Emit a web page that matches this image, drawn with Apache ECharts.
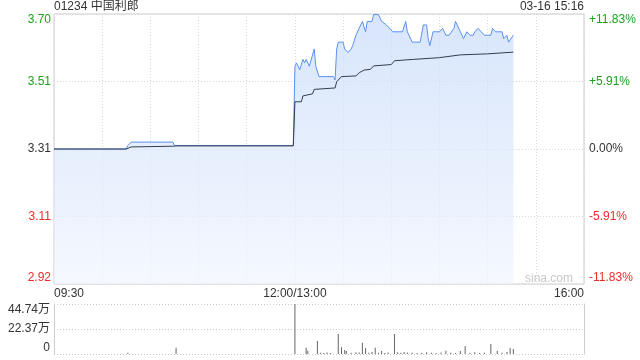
<!DOCTYPE html>
<html><head><meta charset="utf-8">
<script src="https://cdn.jsdelivr.net/npm/echarts@6/dist/echarts.min.js"></script>
<style>html,body{margin:0;padding:0;background:#fff}#c{width:640px;height:360px}</style>
</head><body><div id="c"></div>
<script>
const stockTitle = '01234 中国利郎';
const timeStamp = '03-16 15:16';
const watermark = 'sina.com';
const prevClose = 3.31;
const maxDeviation = 0.3916;
const priceTickLabels = ['2.92', '3.11', '3.31', '3.51', '3.70'];
const pctTickLabels = ['-11.83%', '-5.91%', '0.00%', '+5.91%', '+11.83%'];
const timeTickLabels = { 0: '09:30', 150: '12:00/13:00', 330: '16:00' };
const volTickLabels = ['0', '22.37万', '44.74万'];
const volMax = 447400;

// minute index from 09:30 (0..150 morning, 150..330 afternoon 13:00-16:00)
const priceMinutes = [0, 45, 46, 48, 74, 75, 149,
  150, 151, 153, 155, 156, 157, 159, 160, 162, 163, 165, 167, 174, 175, 176, 177, 180, 181, 183, 185, 186, 188, 190, 192, 194, 195, 198, 199, 202, 204, 207, 211, 217, 219, 220, 223, 228, 229, 230, 232, 233, 234, 236, 240, 242, 243, 244, 246, 249, 250, 253, 255, 257, 259, 261, 262, 264, 266, 268, 270, 272, 273, 275, 279, 280, 282, 283, 284, 286];
const prices = [3.31, 3.31, 3.32, 3.33, 3.33, 3.32, 3.32,
  3.55, 3.56, 3.54, 3.57, 3.56, 3.57, 3.55, 3.55, 3.60, 3.55, 3.52, 3.52, 3.52, 3.51, 3.60, 3.62, 3.62, 3.60, 3.59, 3.60, 3.61, 3.64, 3.66, 3.68, 3.65, 3.68, 3.68, 3.70, 3.70, 3.68, 3.67, 3.65, 3.65, 3.68, 3.65, 3.62, 3.62, 3.62, 3.67, 3.67, 3.63, 3.61, 3.65, 3.65, 3.66, 3.65, 3.64, 3.64, 3.66, 3.68, 3.65, 3.63, 3.65, 3.64, 3.64, 3.65, 3.66, 3.65, 3.64, 3.64, 3.64, 3.66, 3.65, 3.65, 3.63, 3.64, 3.62, 3.62, 3.64];

const avgMinutes = [0, 45, 48, 74, 76, 149, 150, 154, 155, 161, 162, 175, 176, 179, 188, 190, 193, 197, 199, 210, 212, 224, 240, 253, 270, 286];
const avgPrices = [3.31, 3.31, 3.316, 3.318, 3.319, 3.319, 3.447, 3.447, 3.464, 3.470, 3.483, 3.487, 3.505, 3.520, 3.522, 3.531, 3.539, 3.541, 3.551, 3.555, 3.566, 3.570, 3.575, 3.583, 3.586, 3.591];

const volMinutes = [46, 76, 150, 157, 158, 164, 166, 168, 170, 172, 177, 179, 181, 182, 185, 188, 190, 192, 194, 196, 198, 200, 202, 204, 206, 208, 212, 214, 216, 218, 220, 223, 226, 229, 232, 235, 238, 241, 244, 247, 250, 253, 256, 259, 262, 265, 268, 272, 276, 279, 282, 284, 286];
const volumes = [12000, 56000, 447400, 57000, 30000, 116000, 12000, 10000, 14000, 9000, 179000, 60000, 36000, 27000, 12000, 15000, 14000, 101000, 54000, 12000, 18000, 57000, 12000, 27000, 10000, 14000, 179000, 15000, 12000, 18000, 14000, 12000, 10000, 12000, 15000, 12000, 10000, 14000, 30000, 12000, 10000, 27000, 72000, 12000, 15000, 10000, 12000, 90000, 30000, 12000, 18000, 54000, 45000];

const FONT = "'Liberation Sans', Arial, 'Noto Sans CJK SC', sans-serif";
const GREEN = '#1ea01e', RED = '#ee2b2b', DARK = '#333';
const half = maxDeviation / 2;
const lblIdx = v => Math.round(v / half) + 2;
const lblColor = v => { const i = lblIdx(v); return i > 2 ? GREEN : (i < 2 ? RED : DARK); };

const priceData = priceMinutes.map((m, i) => [m, prices[i] - prevClose]);
const avgData = avgMinutes.map((m, i) => [m, avgPrices[i] - prevClose]);
const volData = volMinutes.map((m, i) => [m, volumes[i]]);

const chart = echarts.init(document.getElementById('c'), null, { renderer: 'canvas' });
chart.setOption({
  animation: false,
  textStyle: { fontFamily: FONT },
  title: [
    { text: stockTitle, left: 54, top: 1, padding: 0, textStyle: { fontSize: 12, fontWeight: 'normal', color: DARK, fontFamily: FONT } },
    { text: timeStamp, right: 56, top: 1, padding: 0, textStyle: { fontSize: 12, fontWeight: 'normal', color: DARK, fontFamily: FONT } }
  ],
  graphic: [{ type: 'text', right: 67, top: 273, style: { text: watermark, fill: '#c8c8c8', font: "12px " + FONT } }],
  grid: [
    { left: 54, top: 14, width: 530, height: 270, show: true, borderColor: '#ccc', borderWidth: 1 },
    { left: 54, top: 304, width: 530, height: 50 }
  ],
  xAxis: [
    { gridIndex: 0, type: 'value', min: 0, max: 330, interval: 30,
      axisLine: { show: false }, axisTick: { show: false },
      splitLine: { show: true, lineStyle: { color: '#d8d8d8', type: [1, 2] } },
      axisLabel: { margin: 4, fontSize: 12, color: DARK, fontFamily: FONT, showMinLabel: true, showMaxLabel: true,
        alignMinLabel: 'left', alignMaxLabel: 'right',
        formatter: v => timeTickLabels[v] || '' } },
    { gridIndex: 1, type: 'value', min: 0, max: 330, interval: 330,
      axisLine: { show: false }, axisTick: { show: false }, axisLabel: { show: false },
      splitLine: { show: false } }
  ],
  yAxis: [
    { gridIndex: 0, type: 'value', min: -maxDeviation, max: maxDeviation, interval: half,
      axisLine: { show: false }, axisTick: { show: false },
      splitLine: { show: true, lineStyle: { color: '#d8d8d8', type: [1, 2] } },
      axisLabel: { margin: 3, fontSize: 12, fontFamily: FONT, showMinLabel: true, showMaxLabel: true,
        verticalAlignMinLabel: 'bottom', verticalAlignMaxLabel: 'top',
        color: v => lblColor(v), formatter: v => priceTickLabels[lblIdx(v)] } },
    { gridIndex: 0, type: 'value', position: 'right', min: -maxDeviation, max: maxDeviation, interval: half,
      axisLine: { show: false }, axisTick: { show: false }, splitLine: { show: false },
      axisLabel: { margin: 5, fontSize: 12, fontFamily: FONT, showMinLabel: true, showMaxLabel: true,
        verticalAlignMinLabel: 'bottom', verticalAlignMaxLabel: 'top',
        color: v => lblColor(v), formatter: v => pctTickLabels[lblIdx(v)] } },
    { gridIndex: 1, type: 'value', min: 0, max: volMax, interval: volMax / 2,
      axisLine: { show: true, lineStyle: { color: '#ccc' } }, axisTick: { show: false },
      splitLine: { show: true, lineStyle: { color: '#c8c8c8', type: [1, 2] } },
      axisLabel: { margin: 4, fontSize: 12, color: DARK, fontFamily: FONT, showMinLabel: true, showMaxLabel: true,
        verticalAlignMinLabel: 'bottom', verticalAlignMaxLabel: 'top',
        formatter: v => volTickLabels[Math.round(v / (volMax / 2))] } },
    { gridIndex: 1, type: 'value', position: 'right', min: 0, max: volMax,
      axisLine: { show: true, lineStyle: { color: '#ccc' } }, axisTick: { show: false },
      splitLine: { show: false }, axisLabel: { show: false } }
  ],
  series: [
    { type: 'line', xAxisIndex: 0, yAxisIndex: 0, data: priceData, showSymbol: false, symbol: 'none',
      lineStyle: { color: '#5a92ef', width: 1 },
      areaStyle: { origin: 'start', color: new echarts.graphic.LinearGradient(0, 0, 0, 1, [
        { offset: 0, color: '#c6d9f9' }, { offset: 1, color: '#f0f5fe' }]) },
      z: 2 },
    { type: 'line', xAxisIndex: 0, yAxisIndex: 0, data: avgData, showSymbol: false, symbol: 'none',
      lineStyle: { color: '#333c4c', width: 1 }, z: 3 },
    { type: 'bar', xAxisIndex: 1, yAxisIndex: 2, data: volData, barWidth: 1,
      itemStyle: { color: '#666' } }
  ]
});
</script></body></html>
